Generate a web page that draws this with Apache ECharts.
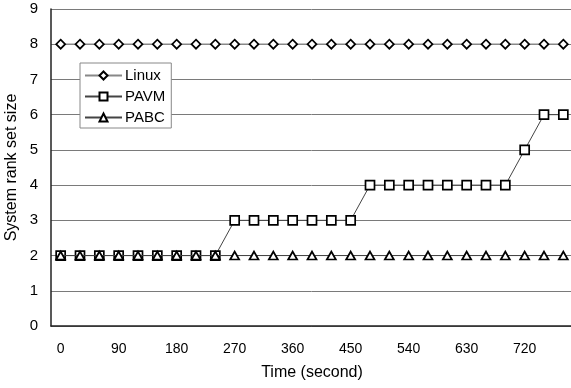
<!DOCTYPE html>
<html><head><meta charset="utf-8">
<script src="https://cdn.jsdelivr.net/npm/echarts@6/dist/echarts.min.js"></script>
<style>html,body{margin:0;padding:0;background:#fff}#c{width:571px;height:388px}</style>
</head><body><div id="c"></div>
<script>
const times = [0,30,60,90,120,150,180,210,240,270,300,330,360,390,420,450,480,510,540,570,600,630,660,690,720,750,780];
const linux = [8,8,8,8,8,8,8,8,8,8,8,8,8,8,8,8,8,8,8,8,8,8,8,8,8,8,8];
const pavm  = [2,2,2,2,2,2,2,2,2,3,3,3,3,3,3,3,4,4,4,4,4,4,4,4,5,6,6];
const pabc  = [2,2,2,2,2,2,2,2,2,2,2,2,2,2,2,2,2,2,2,2,2,2,2,2,2,2,2];
const yTicks = [0,1,2,3,4,5,6,7,8,9];

const font = 'Liberation Sans, Arial, sans-serif';
const chart = echarts.init(document.getElementById('c'), null, {renderer:'canvas'});
const mk = {color:'#fff', borderColor:'#000', borderWidth:1.7};
chart.setOption({
  animation:false,
  backgroundColor:'#fff',
  textStyle:{fontFamily:font},
  grid:{left:51, right:-2, top:9, bottom:62, show:false, containLabel:false, outerBoundsMode:'none'},
  legend:{
    orient:'vertical', left:80, top:63,
    backgroundColor:'#fff', borderColor:'#888', borderWidth:1,
    padding:[5,6,3,4], itemGap:6, itemWidth:37, itemHeight:10,
    textStyle:{fontSize:15, color:'#000', fontFamily:font, padding:[0,0,0,-2]},
    data:['Linux','PAVM','PABC']
  },
  xAxis:{
    type:'category', data:times, boundaryGap:true,
    axisLine:{show:true, lineStyle:{color:'#222', width:1.5}},
    axisTick:{show:false},
    axisLabel:{interval:2, fontSize:14, color:'#000', margin:16, fontFamily:font},
    name:'Time (second)', nameLocation:'middle', nameGap:39, nameMoveOverlap:false,
    nameTextStyle:{fontSize:16, color:'#000', fontFamily:font}
  },
  yAxis:{
    type:'value', min:0, max:9, interval:1,
    axisLine:{show:true, lineStyle:{color:'#222', width:1.5}},
    axisTick:{show:false},
    axisLabel:{fontSize:15, color:'#000', margin:13, fontFamily:font,
      formatter:v=>yTicks.includes(v)?String(v):''},
    splitLine:{show:true, lineStyle:{color:'#7a7a7a', width:1}},
    name:'System rank set size', nameLocation:'middle', nameGap:31, nameMoveOverlap:false,
    nameTextStyle:{fontSize:16, color:'#000', fontFamily:font}
  },
  series:[
    {name:'Linux', type:'line', data:linux, symbol:'diamond', symbolSize:[9,9],
      lineStyle:{color:'#888', width:1.5}, itemStyle:mk, z:3},
    {name:'PAVM', type:'line', data:pavm, symbol:'rect', symbolSize:[9,9],
      lineStyle:{color:'#444', width:1}, itemStyle:mk, z:3},
    {name:'PABC', type:'line', data:pabc, symbol:'triangle', symbolSize:[9,8],
      lineStyle:{color:'#444', width:1}, itemStyle:mk, z:4}
  ]
});
</script></body></html>
